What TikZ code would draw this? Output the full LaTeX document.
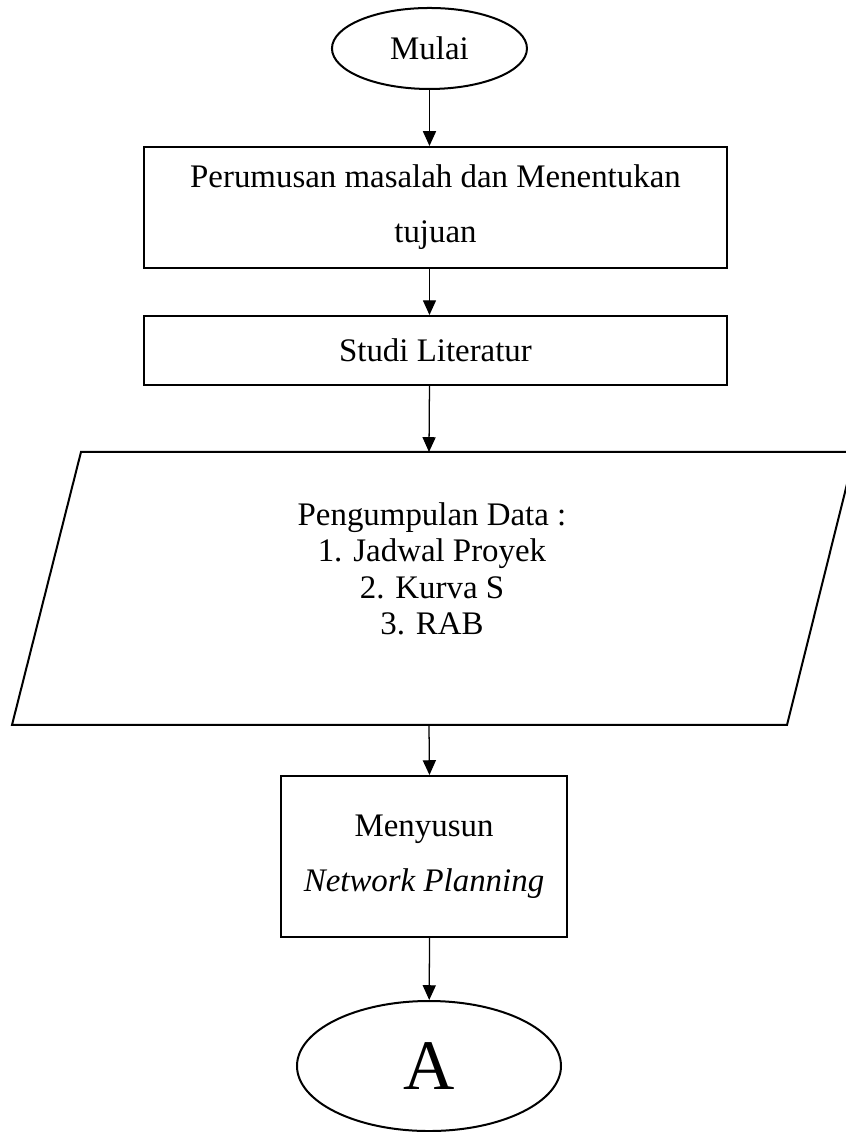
\documentclass[tikz,border=0pt]{standalone}
\usepackage{fontspec}
\setmainfont{Liberation Serif}
\usetikzlibrary{shapes.geometric,arrows.meta}
\begin{document}
\begin{tikzpicture}[
  box/.style={draw,line width=0.95pt,align=center,font=\fontsize{15.6}{26}\selectfont},
  oval/.style={draw,ellipse,line width=0.95pt,inner sep=0pt},
  arr/.style={-{Triangle[length=7pt,width=6.2pt]},line width=0.6pt}]
\useasboundingbox (0,0) rectangle (14.1,-18.867);
\clip (0,0) rectangle (14.1,-18.867);
\node[oval,minimum width=3.25cm,minimum height=1.35cm,font=\fontsize{15.6}{18}\selectfont] (mulai) at (7.158,-0.808) {Mulai};
\node[box,minimum width=9.717cm,minimum height=2.017cm] (rumusan) at (7.258,-3.458) {Perumusan masalah dan Menentukan\\tujuan};
\node[box,minimum width=9.717cm,minimum height=1.15cm] (studi) at (7.258,-5.842) {Studi Literatur};
\draw[line width=0.95pt] (1.35,-7.533) -- (14.25,-7.533) -- (13.117,-12.083) -- (0.2,-12.083) -- cycle;
\coordinate (data top) at (7.15,-7.533);
\coordinate (data bottom) at (7.15,-12.083);
\node[align=center,font=\fontsize{15.6}{17.3}\selectfont] (data) at (7.2,-9.483) {Pengumpulan Data :\\1. Jadwal Proyek\\2. Kurva S\\3. RAB};
\node[box,minimum width=4.767cm,minimum height=2.683cm] (nwp) at (7.067,-14.275) {Menyusun\\\textit{Network Planning}};
\node[oval,minimum width=4.4cm,minimum height=2.167cm,font=\fontsize{33.7}{40}\selectfont] (a) at (7.15,-17.767) {A};
\draw[arr] (mulai) -- (mulai |- rumusan.north);
\draw[arr] (rumusan.south -| mulai) -- (studi.north -| mulai);
\draw[arr] (studi.south -| mulai) -- (data top);
\draw[arr] (data bottom) -- (nwp.north -| mulai);
\draw[arr] (nwp.south -| mulai) -- (a);
\end{tikzpicture}
\end{document}
